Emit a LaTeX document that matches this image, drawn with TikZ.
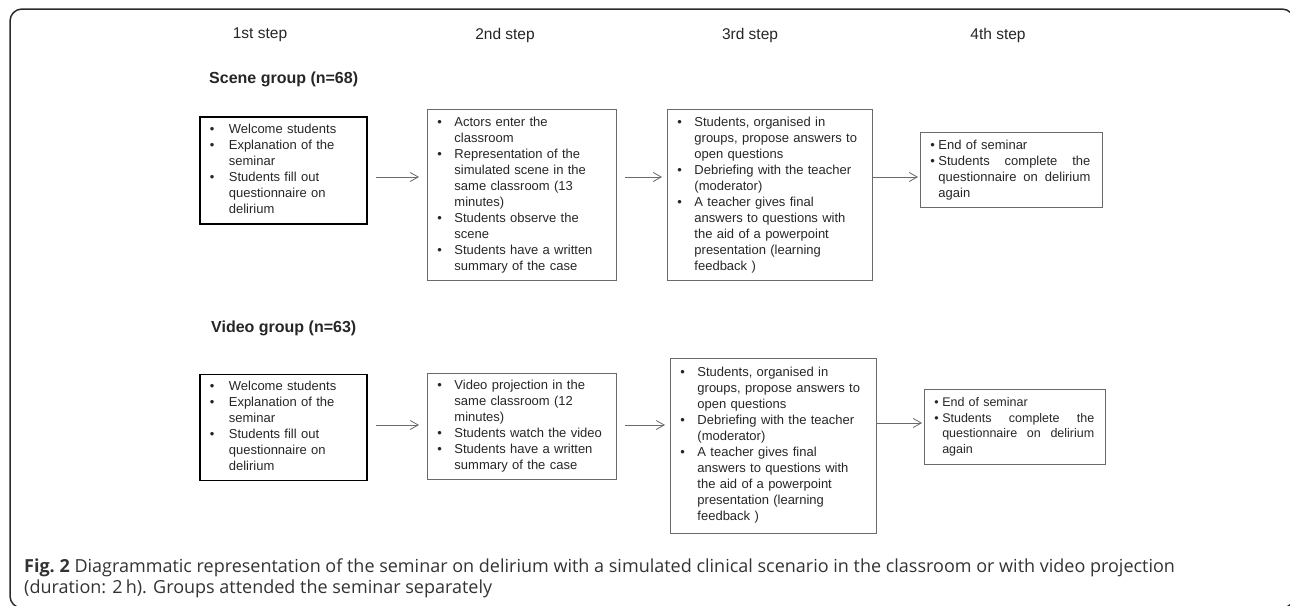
\documentclass[tikz,border=0pt]{standalone}
\usepackage{fontspec}
\setmainfont{Liberation Sans}
\newfontfamily\capfont{Open Sans}
\usetikzlibrary{arrows.meta}
\usetikzlibrary{positioning}

\definecolor{txtgray}{HTML}{262626}
\definecolor{linegray}{HTML}{6A6A6A}
\definecolor{framegray}{HTML}{2B2B2B}
\definecolor{capgray}{HTML}{333333}

\newcommand\steplist[2]{%
  \begin{tabular}{@{}l@{\hspace{#1}}l@{}}#2\end{tabular}}
\newcommand\fullline[1]{\makebox[152pt][l]{#1}}

\begin{document}
\begin{tikzpicture} [
        x = 1pt,
        y = -1pt,
        every node/.style = {
          text = txtgray,
        },
        stepbox/.style = {
          draw = linegray,
          line width = 0.8pt,
          anchor = north west,
          inner xsep = 10pt,
          inner ysep = 0pt,
          align = left,
          font = \fontsize{13}{16}\selectfont,
        },
        firstbox/.style = {
          stepbox,
          draw = black,
          line width = 1.6pt,
        },
        flow/.style = {
          draw = linegray,
          line width = 0.8pt,
          -{Straight Barb[length=8pt,width=9pt]},
        },
        steplabel/.style = {
          font = \fontsize{15.5}{18}\selectfont,
        },
        grouplabel/.style = {
          anchor = west,
          inner sep = 0pt,
          font = \fontsize{16}{19}\selectfont\bfseries,
        },
      ]
    \useasboundingbox (0,0) rectangle (1290,605);

    % frame
    \draw[framegray, line width = 1.5pt, rounded corners = 12pt] (10,9) rectangle (1294,608);

    % step headers
    \node [steplabel] (step1) at (260,35) {1st step};
    \node [steplabel] (step2) at (505,35) {2nd step};
    \node [steplabel] (step3) at (750,35) {3rd step};
    \node [steplabel] (step4) at (998,35) {4th step};

    % scene group
    \node [grouplabel] (sceneLbl) at (209,79) {Scene group (n=68)};

    \node [firstbox, text width = 147pt, minimum height = 107pt] at (199,116) (sceneA) {%
      \steplist{14.5pt}{\textbullet & Welcome students\\
        \textbullet & Explanation of the\\
        & seminar\\
        \textbullet & Students fill out\\
        & questionnaire on\\
        & delirium}};
    \node [stepbox, text width = 169pt, minimum height = 171pt] at (427,109) (sceneB) {%
      \steplist{12.5pt}{\textbullet & Actors enter the\\
        & classroom\\
        \textbullet & Representation of the\\
        & simulated scene in the\\
        & same classroom (13\\
        & minutes)\\
        \textbullet & Students observe the\\
        & scene\\
        \textbullet & Students have a written\\
        & summary of the case}};
    \node [stepbox, text width = 185pt, minimum height = 171pt] at (667,109) (sceneC) {%
      \steplist{12.5pt}{\textbullet & Students, organised in\\
        & groups, propose answers to\\
        & open questions\\
        \textbullet & Debriefing with the teacher\\
        & (moderator)\\
        \textbullet & A teacher gives final\\
        & answers to questions with\\
        & the aid of a powerpoint\\
        & presentation (learning\\
        & feedback )}};
    \node [stepbox, text width = 162pt, minimum height = 75pt] at (920,132) (sceneD) {%
      \steplist{3.5pt}{\textbullet & End of seminar\\
        \textbullet & \fullline{Students\hfill complete\hfill the}\\
        & \fullline{questionnaire\hfill on\hfill delirium}\\
        & again}};

    % video group
    \node [grouplabel] (videoLbl) at (211,328) {Video group (n=63)};

    \node [firstbox, below = 149pt of sceneA, text width = 147pt, minimum height = 106pt] (videoA) {%
      \steplist{14.5pt}{\textbullet & Welcome students\\
        \textbullet & Explanation of the\\
        & seminar\\
        \textbullet & Students fill out\\
        & questionnaire on\\
        & delirium}};
    \node [stepbox, below = 92pt of sceneB, text width = 169pt, minimum height = 106pt] (videoB) {%
      \steplist{12.5pt}{\textbullet & Video projection in the\\
        & same classroom (12\\
        & minutes)\\
        \textbullet & Students watch the video\\
        \textbullet & Students have a written\\
        & summary of the case}};
    \node [stepbox, below = 77pt of sceneC, xshift = 3.5pt, text width = 186pt, minimum height = 175pt] (videoC) {%
      \steplist{12.5pt}{\textbullet & Students, organised in\\
        & groups, propose answers to\\
        & open questions\\
        \textbullet & Debriefing with the teacher\\
        & (moderator)\\
        \textbullet & A teacher gives final\\
        & answers to questions with\\
        & the aid of a powerpoint\\
        & presentation (learning\\
        & feedback )}};
    \node [stepbox, below = 181pt of sceneD, xshift = 3.5pt, text width = 161pt, minimum height = 75pt,
           font = \fontsize{12.5}{15.5}\selectfont] (videoD) {%
      \steplist{3.5pt}{\textbullet & End of seminar\\
        \textbullet & \fullline{Students\hfill complete\hfill the}\\
        & \fullline{questionnaire\hfill on\hfill delirium}\\
        & again}};

    % arrows
    \coordinate (row1) at (0,177);
    \coordinate (row2) at (0,425);
    \coordinate (row2b) at (0,423);
    \draw[flow, shorten <= 8pt, shorten >= 8pt] (sceneA.east |- row1) -- (sceneB.west |- row1);
    \draw[flow, shorten <= 8pt, shorten >= 5pt] (sceneB.east |- row1) -- (sceneC.west |- row1);
    \draw[flow, shorten >= 2pt] (sceneC.east |- row1) -- (sceneD.west |- row1);
    \draw[flow, shorten <= 8pt, shorten >= 8pt] (videoA.east |- row2) -- (videoB.west |- row2);
    \draw[flow, shorten <= 8pt, shorten >= 5pt] (videoB.east |- row2) -- (videoC.west |- row2);
    \draw[flow, shorten >= 2pt] (videoC.east |- row2b) -- (videoD.west |- row2b);

    % caption
    \node [anchor = base west, inner sep = 0pt, text = capgray, font = \capfont\fontsize{18}{21.5}\selectfont] at (24,572) (caption) {%
      \begin{tabular}[t]{@{}l@{}}\textbf{Fig.~2} Diagrammatic representation of the seminar on delirium with a simulated clinical scenario in the classroom or with video projection\\
      (duration: 2\,h). Groups attended the seminar separately\end{tabular}};
  \end{tikzpicture}
\end{document}
